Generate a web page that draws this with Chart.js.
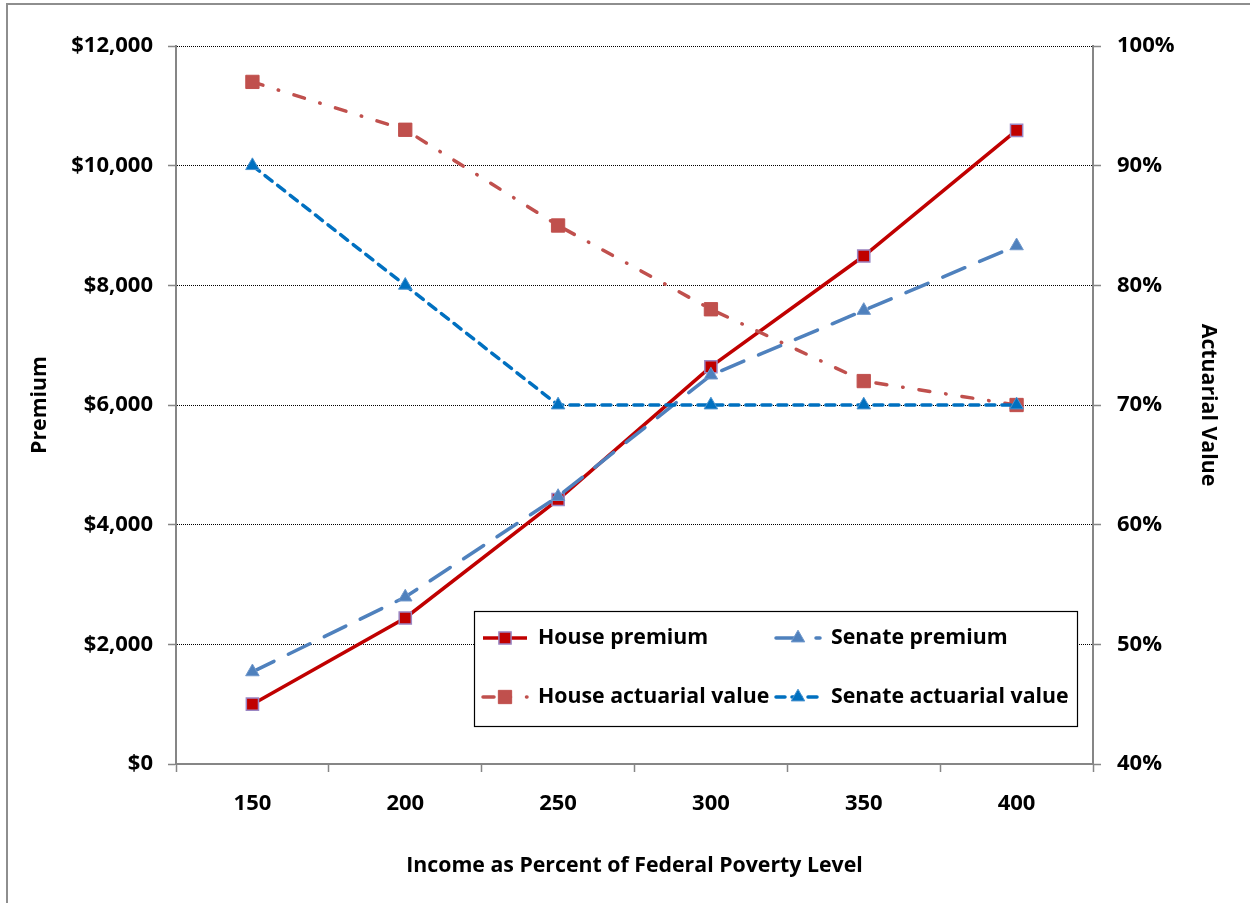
<!DOCTYPE html>
<html>
<head>
<meta charset="utf-8">
<script src="https://cdn.jsdelivr.net/npm/chart.js@4/dist/chart.umd.min.js"></script>
<style>
  html, body { margin: 0; padding: 0; background: #fff; }
  #wrap { position: relative; width: 1250px; height: 903px; }
  canvas { display: block; }
</style>
</head>
<body>
<div id="wrap"><canvas id="c" width="1250" height="903"></canvas></div>
<script>
// ---- data ----
const categories = ['150', '200', '250', '300', '350', '400'];
const housePremium = [1000, 2440, 4420, 6640, 8490, 10590];
const senatePremium = [1540, 2790, 4470, 6500, 7580, 8660];
const houseAV = [97, 93, 85, 78, 72, 70];
const senateAV = [90, 80, 70, 70, 70, 70];
const premiumTickLabels = ['$0', '$2,000', '$4,000', '$6,000', '$8,000', '$10,000', '$12,000'];
const avTickLabels = ['40%', '50%', '60%', '70%', '80%', '90%', '100%'];
const seriesNames = ['House premium', 'Senate premium', 'House actuarial value', 'Senate actuarial value'];

const FONT = "'Open Sans', Lato, sans-serif";
const AXIS_GRAY = '#868686';
const fnt = { family: FONT, size: 22, weight: 'bold' };
const titleFnt = { family: FONT, size: 21.3, weight: 'bold' };

const datasets = [
  {
    label: seriesNames[0], data: housePremium, yAxisID: 'y',
    borderColor: '#C00000', borderWidth: 3.5, borderDash: [],
    pointStyle: 'rect', pointRadius: 8.6, pointBackgroundColor: '#C00000',
    pointBorderColor: '#9B87C4', pointBorderWidth: 1.5, order: 4
  },
  {
    label: seriesNames[1], data: senatePremium, yAxisID: 'y',
    borderColor: '#4F81BD', borderWidth: 3.5, borderDash: [24, 16], borderCapStyle: 'round',
    pointStyle: 'triangle', pointRadius: 7.8, pointBackgroundColor: '#4F81BD',
    pointBorderColor: '#6F97CB', pointBorderWidth: 1, order: 3
  },
  {
    label: seriesNames[2], data: houseAV, yAxisID: 'y2',
    borderColor: '#C0504D', borderWidth: 3.5, borderDash: [11, 16, 0.5, 16], borderCapStyle: 'round',
    pointStyle: 'rect', pointRadius: 9.4, pointBackgroundColor: '#C0504D',
    pointBorderColor: '#C0504D', pointBorderWidth: 1, order: 2
  },
  {
    label: seriesNames[3], data: senateAV, yAxisID: 'y2',
    borderColor: '#0070C0', borderWidth: 3.5, borderDash: [9, 7], borderCapStyle: 'round',
    pointStyle: 'triangle', pointRadius: 7.8, pointBackgroundColor: '#0070C0',
    pointBorderColor: '#4A93CF', pointBorderWidth: 1, order: 1
  }
];

// frame around the whole picture (left and top edges visible)
const framePlugin = {
  id: 'frame',
  beforeDraw(chart) {
    const ctx = chart.ctx;
    ctx.save();
    ctx.fillStyle = '#fff';
    ctx.fillRect(0, 0, chart.width, chart.height);
    ctx.strokeStyle = '#8e8e8e';
    ctx.lineWidth = 2;
    ctx.beginPath();
    ctx.moveTo(7, chart.height + 5);
    ctx.lineTo(7, 4);
    ctx.lineTo(chart.width + 5, 4);
    ctx.stroke();
    ctx.restore();
  }
};

// legend box inside plot area
const LEG = { x0: 474, y0: 611, x1: 1077, y1: 726,
  rows: [638, 697], cols: [483, 776], sampleLen: 44, textGap: 11 };
const legendPlugin = {
  id: 'boxLegend',
  afterDatasetsDraw(chart) {
    const ctx = chart.ctx;
    ctx.save();
    ctx.fillStyle = '#fff';
    ctx.fillRect(LEG.x0, LEG.y0, LEG.x1 - LEG.x0, LEG.y1 - LEG.y0);
    ctx.strokeStyle = '#000';
    ctx.lineWidth = 1.2;
    ctx.strokeRect(LEG.x0 + 0.5, LEG.y0 + 0.5, LEG.x1 - LEG.x0, LEG.y1 - LEG.y0);
    const ds = chart.data.datasets;
    ds.forEach((d, i) => {
      const row = Math.floor(i / 2), col = i % 2;
      const x = LEG.cols[col], y = LEG.rows[row];
      ctx.save();
      ctx.strokeStyle = d.borderColor;
      ctx.lineWidth = d.borderWidth;
      ctx.lineCap = d.borderCapStyle || 'butt';
      ctx.setLineDash(d.borderDash || []);
      ctx.beginPath();
      ctx.moveTo(x, y);
      ctx.lineTo(x + LEG.sampleLen, y);
      ctx.stroke();
      ctx.restore();
      ctx.save();
      ctx.fillStyle = d.pointBackgroundColor;
      ctx.strokeStyle = d.pointBorderColor;
      ctx.lineWidth = d.pointBorderWidth;
      Chart.helpers.drawPoint(ctx, { pointStyle: d.pointStyle, radius: d.pointRadius, rotation: 0, borderWidth: d.pointBorderWidth },
        x + LEG.sampleLen / 2, y);
      ctx.restore();
      ctx.fillStyle = '#000';
      ctx.font = 'bold 21.3px ' + FONT;
      ctx.textBaseline = 'middle';
      ctx.textAlign = 'left';
      ctx.fillText(d.label, x + LEG.sampleLen + LEG.textGap, y);
    });
    ctx.restore();
  }
};

new Chart(document.getElementById('c'), {
  type: 'line',
  data: { labels: categories, datasets },
  options: {
    responsive: false,
    animation: false,
    devicePixelRatio: 1,
    layout: { padding: { top: 46, left: 23, right: 25, bottom: 18 } },
    plugins: { legend: { display: false }, tooltip: { enabled: false } },
    elements: { line: { tension: 0 } },
    scales: {
      x: {
        type: 'category', offset: true,
        grid: { offset: true, drawOnChartArea: false, drawTicks: true, tickLength: 8, tickColor: AXIS_GRAY, tickWidth: 1.5 },
        border: { display: true, color: AXIS_GRAY, width: 2 },
        ticks: { font: fnt, color: '#000', padding: 19, maxRotation: 0 },
        title: { display: true, text: 'Income as Percent of Federal Poverty Level', font: titleFnt, color: '#000', padding: { top: 4, bottom: 6 } },
        afterFit(s) { s.height = 121; }
      },
      y: {
        position: 'left', min: 0, max: 12000,
        ticks: { stepSize: 2000, font: fnt, color: '#000', padding: 15,
          callback: (v, i) => premiumTickLabels[i] },
        grid: { color: '#000', lineWidth: 1, drawTicks: true, tickLength: 8, tickColor: AXIS_GRAY, tickWidth: 1.5, tickBorderDash: [] },
        border: { display: true, color: AXIS_GRAY, width: 2, dash: [1, 1] },
        title: { display: true, text: 'Premium', font: titleFnt, color: '#000', padding: 4 },
        afterFit(s) { s.width = 153; }
      },
      y2: {
        position: 'right', min: 40, max: 100,
        ticks: { stepSize: 10, font: fnt, color: '#000', padding: 16,
          callback: (v, i) => avTickLabels[i] },
        grid: { drawOnChartArea: false, drawTicks: true, tickLength: 8, tickColor: AXIS_GRAY, tickWidth: 1.5 },
        border: { display: true, color: AXIS_GRAY, width: 2 },
        title: { display: true, text: 'Actuarial Value', font: titleFnt, color: '#000', padding: 4 },
        afterFit(s) { s.width = 132; }
      }
    }
  },
  plugins: [framePlugin, legendPlugin]
});
</script>
</body>
</html>
